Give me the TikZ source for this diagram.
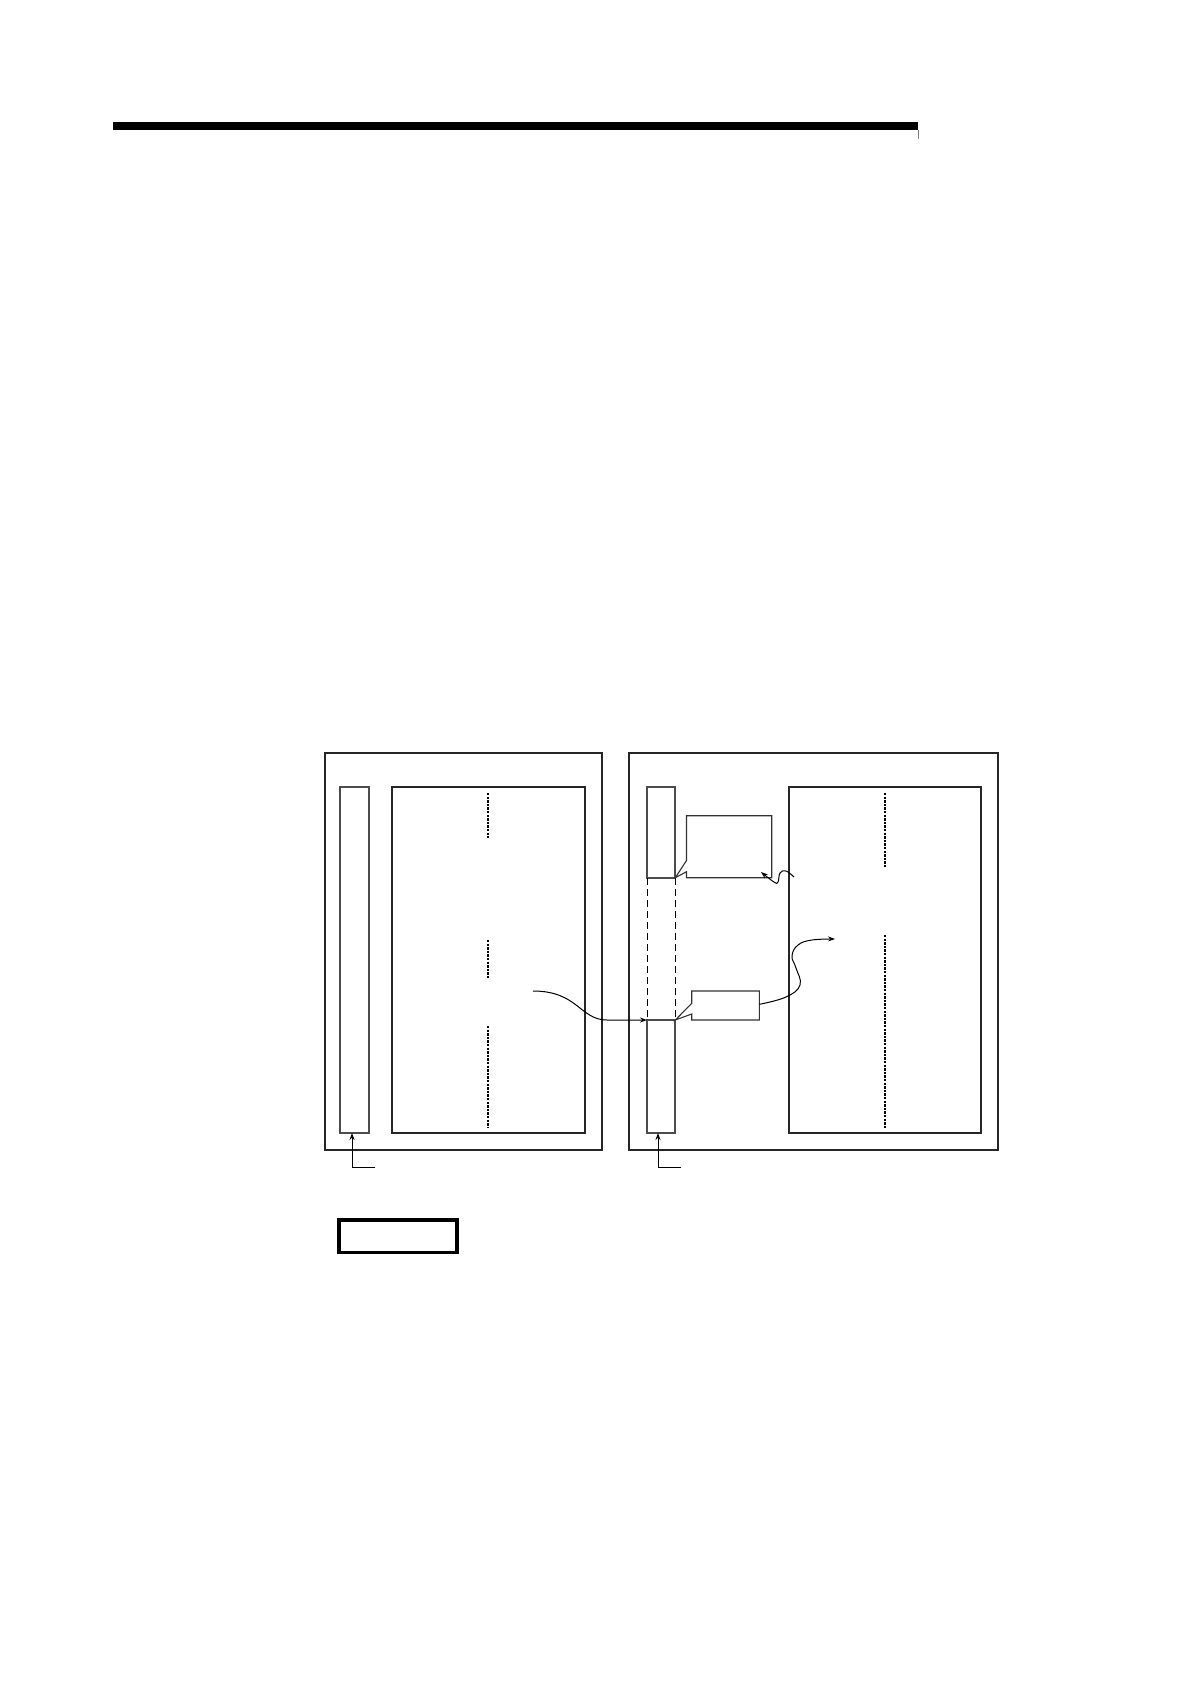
\documentclass[tikz,border=0pt]{standalone}
\usetikzlibrary{arrows.meta}
\begin{document}
\begin{tikzpicture}[x=1pt,y=-1pt,
  box/.style={draw=black!85,line width=1.2pt},
  thinbox/.style={draw=black!70,line width=1.2pt},
  thickdash/.style={draw=black,line width=2.2pt,dash pattern=on 2.4pt off 1.2pt},
  hiddenedge/.style={draw=black,line width=0.9pt,dash pattern=on 7pt off 4pt},
  callout/.style={draw=black!80,line width=1.1pt,fill=white},
  conn/.style={draw=black,line width=1pt,-{Stealth[length=7pt,width=5pt]}},
  legend/.style={draw=black,line width=3.2pt}]
\useasboundingbox (0,0) rectangle (1190,1684);
% top rule
\fill[black] (113.3,122) rectangle (918.3,129.7);
\draw[black!50,line width=0.6pt] (918,129.7) -- (918,139);
% left panel
\draw[box] (325,753) rectangle (602,1150);
\draw[thinbox] (340,787) rectangle (369,1133);
\draw[box] (392,787) rectangle (585,1133);
\draw[thickdash] (488,793) -- (488,838);
\draw[thickdash] (488,940) -- (488,979);
\draw[thickdash] (488,1026) -- (488,1128);
% right panel
\draw[box] (629,753) rectangle (998,1150);
\draw[thinbox] (647,787) rectangle (675,878);
\draw[thinbox] (647,1020) rectangle (675,1133);
\draw[hiddenedge] (647,878) -- (647,1020);
\draw[hiddenedge] (675,878) -- (675,1020);
\draw[box] (789,787) rectangle (981,1133);
\draw[thickdash] (885,793) -- (885,867);
\draw[thickdash] (885,935) -- (885,1128);
% callouts
\draw[callout] (686.5,860.5) -- (686.5,815.7) -- (771.7,815.7) -- (771.7,877.7)
  -- (686.5,877.7) -- (686.5,871.7) -- (675.3,877.7) -- cycle;
\draw[callout] (691.7,1003.3) -- (691.7,991) -- (759.3,991) -- (759.3,1020)
  -- (691.7,1020) -- (691.7,1014) -- (675.3,1020) -- cycle;
% named connector ends
\coordinate (lstart) at (533,991);
\coordinate (lend) at (647,1020);
\coordinate (c1tip) at (761,872);
\coordinate (c1src) at (794,877);
\coordinate (c2src) at (759.3,1004.3);
\coordinate (c2tip) at (835,939);
\coordinate (lbase) at (375,1167);
\coordinate (ltop) at (352,1133);
\coordinate (rbase) at (681,1167);
\coordinate (rtop) at (658,1133);
% connectors
\draw[conn] (lstart) .. controls (578,991) and (580,1020) .. (607,1020) -- (lend);
\draw[conn] plot[smooth,tension=0.7] coordinates {(c1src) (786,871) (780,873) (778,882) (774,882) (c1tip)};
\draw[conn] plot[smooth,tension=0.7] coordinates {(c2src) (786,997) (800,985) (796,968) (792,956) (798,945) (812,940) (c2tip)};
\draw[conn] (lbase) -- (352,1167) -- (ltop);
\draw[conn] (rbase) -- (658,1167) -- (rtop);
% legend box
\draw[legend] (339,1220) rectangle (457,1252.5);
\end{tikzpicture}
\end{document}
